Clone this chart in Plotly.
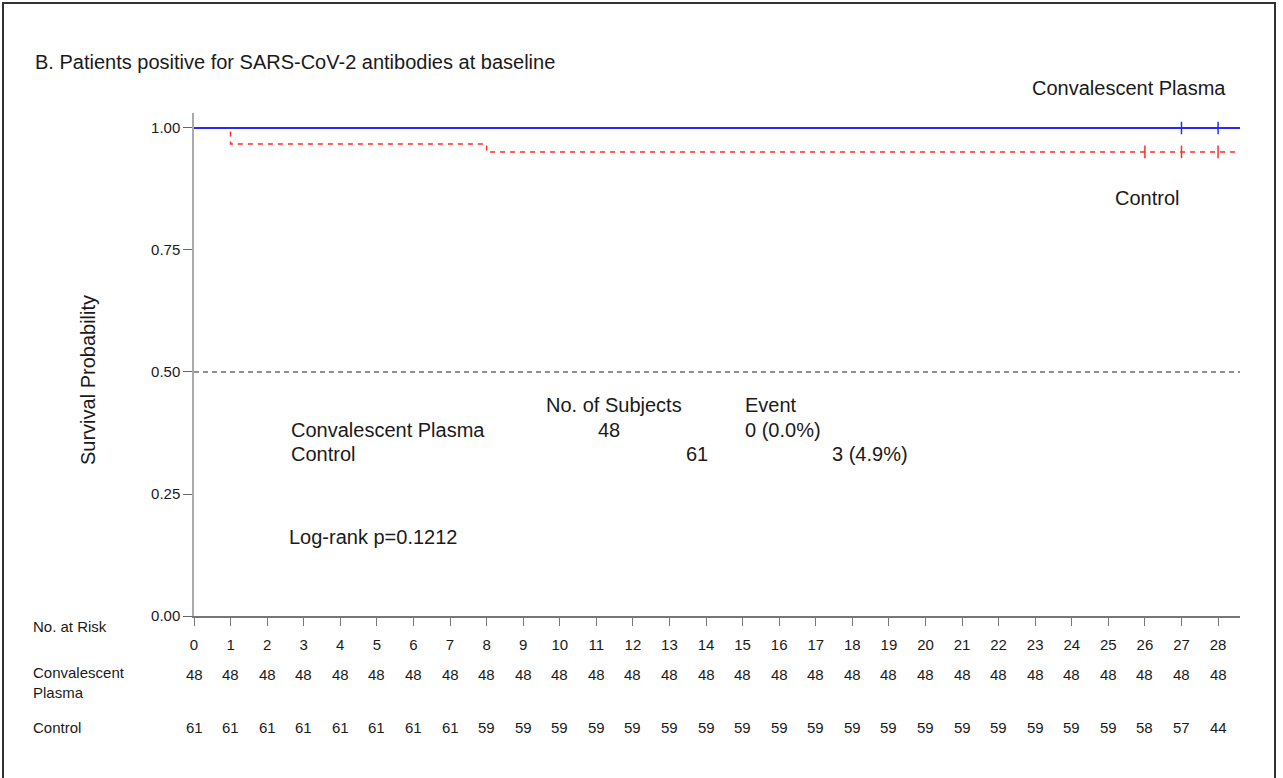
import plotly.graph_objects as go

# ---- data ----
days = list(range(0, 29))
cp_time = [0, 28.6]
cp_surv = [1.0, 1.0]
ctrl_time = [0, 1, 1, 8, 8, 28.6]
ctrl_surv = [1.0, 1.0, 0.967, 0.967, 0.951, 0.951]
cp_censor_t = [27, 28]
cp_censor_s = [1.0, 1.0]
ctrl_censor_t = [26, 27, 28]
ctrl_censor_s = [0.951, 0.951, 0.951]
risk_cp = [48] * 29
risk_ctrl = [61, 61, 61, 61, 61, 61, 61, 61, 59, 59, 59, 59, 59, 59, 59, 59,
             59, 59, 59, 59, 59, 59, 59, 59, 59, 59, 58, 57, 44]
groups = ["Convalescent Plasma", "Control"]
n_subjects = [48, 61]
events = ["0 (0.0%)", "3 (4.9%)"]
logrank = "Log-rank p=0.1212"

FONT = "Liberation Sans, Arial, sans-serif"
TXT = "#1a1a1a"

fig = go.Figure()
fig.add_trace(go.Scatter(x=ctrl_time, y=ctrl_surv, mode="lines",
                         line=dict(color="#ff2a2a", width=1.5, dash="5px,5px"), hoverinfo="skip"))
fig.add_trace(go.Scatter(x=ctrl_censor_t, y=ctrl_censor_s, mode="markers",
                         marker=dict(symbol="line-ns", size=9,
                                     line=dict(color="#ff2a2a", width=1.5)), hoverinfo="skip"))
fig.add_trace(go.Scatter(x=cp_time, y=cp_surv, mode="lines",
                         line=dict(color="#2a2aff", width=2), hoverinfo="skip"))
fig.add_trace(go.Scatter(x=cp_censor_t, y=cp_censor_s, mode="markers",
                         marker=dict(symbol="line-ns", size=9,
                                     line=dict(color="#2a2aff", width=1.5)), hoverinfo="skip"))

# 0.5 reference line
fig.add_shape(type="line", xref="x", yref="y", x0=0, x1=28.6, y0=0.5, y1=0.5,
              line=dict(color="#222", width=1, dash="5px,4px"))
# outer frame
fig.add_shape(type="rect", xref="paper", yref="paper",
              x0=(3 - 194) / 1046, x1=(1275 - 194) / 1046,
              y0=(616 - 800) / 503, y1=(616 - 3) / 503,
              line=dict(color="#333", width=2))

ann = []
def A(text, x, y, xref="x", yref="y", size=20, xanchor="left", **kw):
    ann.append(dict(text=text, x=x, y=y, xref=xref, yref=yref, showarrow=False,
                    xanchor=xanchor, yanchor="middle",
                    font=dict(family=FONT, size=size, color=TXT), **kw))

A("B. Patients positive for SARS-CoV-2 antibodies at baseline",
  (33 - 194) / 1046, (616 - 62) / 503, xref="paper", yref="paper")
A(groups[0], 22.86, (616 - 88) / 503, yref="paper")
A(groups[1], 25.13, 0.857)
A("Survival Probability", (88 - 194) / 1046, (616 - 380) / 503,
  xref="paper", yref="paper", xanchor="center", textangle=-90)

# summary table
A("No. of Subjects", 9.58, 0.432)
A("Event", 15.0, 0.432)
A(groups[0], 2.60, 0.381)
A(str(n_subjects[0]), 10.98, 0.381)
A(events[0], 15.0, 0.381)
A(groups[1], 2.60, 0.332)
A(str(n_subjects[1]), 13.40, 0.332)
A(events[1], 17.40, 0.332)
A(logrank, 2.55, 0.162)

# risk table
xl = (31 - 194) / 1046
A("No. at Risk", xl, (616 - 626) / 503, xref="paper", yref="paper", size=15)
A("Convalescent<br>Plasma", xl, (616 - 682) / 503, xref="paper", yref="paper",
  size=15, align="left")
A("Control", xl, (616 - 727) / 503, xref="paper", yref="paper", size=15)
for d, r1, r2 in zip(days, risk_cp, risk_ctrl):
    A(str(r1), d, (616 - 674) / 503, yref="paper", size=15, xanchor="center")
    A(str(r2), d, (616 - 727) / 503, yref="paper", size=15, xanchor="center")

fig.update_layout(
    width=1283, height=778,
    margin=dict(l=194, r=43, t=113, b=162),
    paper_bgcolor="white", plot_bgcolor="white",
    showlegend=False, annotations=ann,
    font=dict(family=FONT, color=TXT),
    xaxis=dict(range=[0, 28.6], tickvals=days, ticktext=[str(d) for d in days],
               showgrid=False, zeroline=False, showline=True, linecolor="#777",
               linewidth=1.5, ticks="outside", ticklen=8, tickcolor="#777",
               tickfont=dict(family=FONT, size=15, color=TXT),
               ticklabelstandoff=6),
    yaxis=dict(range=[0, 1.0307], tickvals=[0, 0.25, 0.5, 0.75, 1.0],
               ticktext=["0.00", "0.25", "0.50", "0.75", "1.00"],
               showgrid=False, zeroline=False, showline=True, linecolor="#aaa",
               linewidth=1.5, ticks="outside", ticklen=9, tickcolor="#666",
               tickfont=dict(family=FONT, size=15, color=TXT)),
)

fig.write_html("out.html", config={"displayModeBar": False},
               post_script="document.body.style.margin='0';document.body.style.overflow='hidden';")
